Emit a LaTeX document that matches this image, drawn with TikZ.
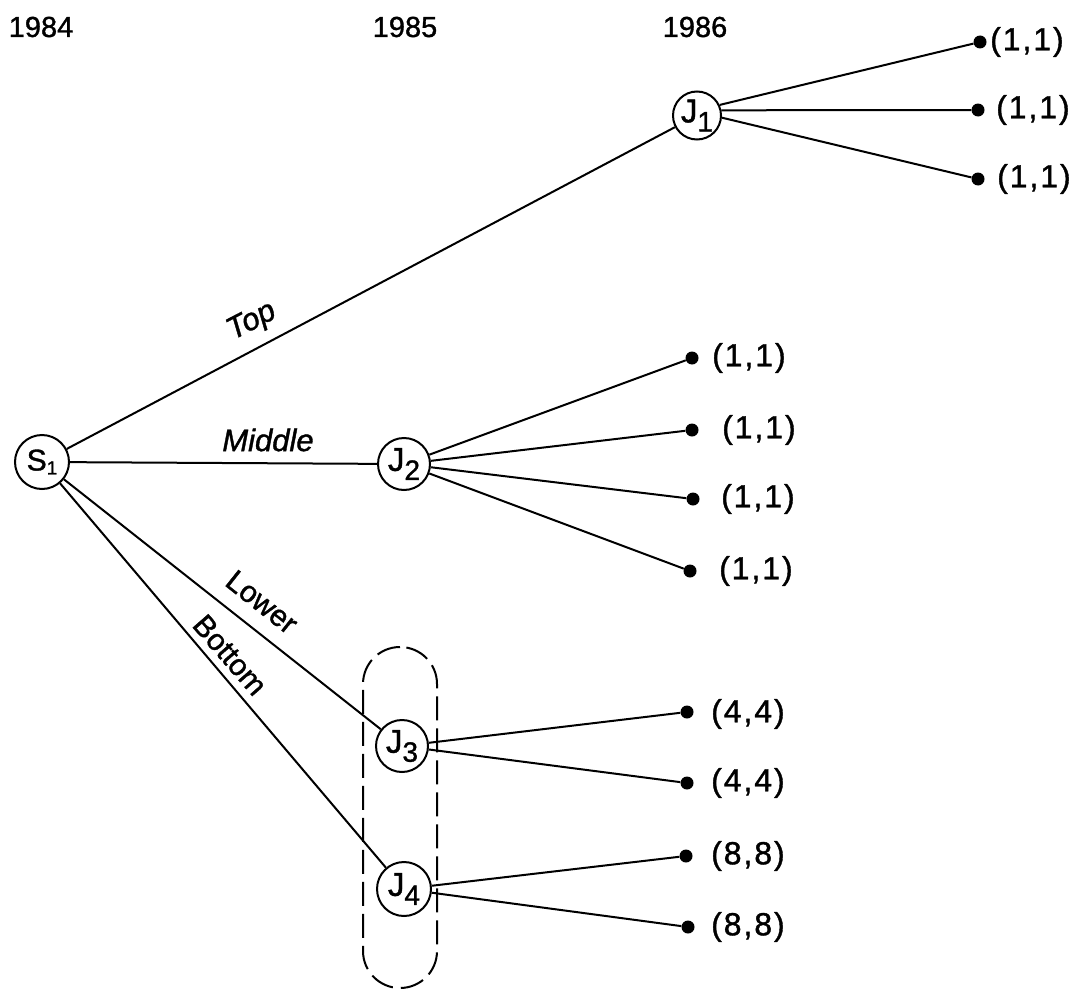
\documentclass[tikz,border=0pt]{standalone}
\usepackage{fontspec}
\setmainfont{Liberation Sans}[FakeBold=1.2]
\newfontfamily\payfam[LetterSpace=6,FakeBold=1.2]{Liberation Sans}
\newcommand\jname[1]{\fontsize{33}{33}\selectfont J\raisebox{-9pt}{\fontsize{28}{28}\selectfont #1}}
\begin{document}
\begin{tikzpicture}[x=1pt,y=-1pt,
  every node/.style={inner sep=0pt},
  state/.style={circle,draw,line width=2pt,minimum size=52pt,inner sep=0pt},
  leaf/.style={circle,fill,minimum size=13pt,inner sep=0pt},
  pay/.style={anchor=west,font=\payfam\fontsize{32}{32}\selectfont},
  yr/.style={font=\fontsize{29}{29}\selectfont},
  edge/.style={line width=2pt},
  ilab/.style={font=\fontsize{31}{31}\selectfont\itshape},
  ulab/.style={font=\fontsize{30}{30}\selectfont},
  grpbox/.style={draw,line width=2pt,dash pattern=on 24pt off 8pt,rounded corners=37pt,minimum width=74pt,minimum height=341pt}
]
\useasboundingbox (0,0) rectangle (1071,990);

% years
\node[yr] (y84) at (41,27) {1984};
\node[yr] (y85) at (405,27) {1985};
\node[yr] (y86) at (695,27) {1986};

% group box
\node[grpbox] (grp) at (400,817.5) {};

% decision nodes
\node[state,minimum size=54pt] (S1) at (42,462) {\fontsize{30}{30}\selectfont S\raisebox{-4pt}{\fontsize{19}{19}\selectfont 1}};
\node[state,minimum size=48pt] (J1) at (697,115.5) {\jname{1}};
\node[state] (J2) at (404,464) {\jname{2}};
\node[state] (J3) at (402,746) {\jname{3}};
\node[state,minimum size=54pt] (J4) at (404,889) {\jname{4}};

% leaves
\node[leaf] (a1) at (980,42) {};
\node[leaf] (a2) at (978,110) {};
\node[leaf] (a3) at (978,179) {};
\node[leaf] (b1) at (692,358) {};
\node[leaf] (b2) at (692,430) {};
\node[leaf] (b3) at (693,499) {};
\node[leaf] (b4) at (690,571) {};
\node[leaf] (c1) at (687,712) {};
\node[leaf] (c2) at (687,783) {};
\node[leaf] (d1) at (686,856) {};
\node[leaf] (d2) at (688,927) {};

% payoffs
\node[pay] (pa1) at (990,42) {(1,1)};
\node[pay] (pa2) at (996,110) {(1,1)};
\node[pay] (pa3) at (997,179) {(1,1)};
\node[pay] (pb1) at (712,358) {(1,1)};
\node[pay] (pb2) at (722,430) {(1,1)};
\node[pay] (pb3) at (721,499) {(1,1)};
\node[pay] (pb4) at (719,571) {(1,1)};
\node[pay] (pc1) at (711,714) {(4,4)};
\node[pay] (pc2) at (711,783) {(4,4)};
\node[pay] (pd1) at (711,856) {(8,8)};
\node[pay] (pd2) at (711,927) {(8,8)};

% main edges
\draw[edge] (S1) -- (J1);
\draw[edge] (S1) -- (J2);
\draw[edge] (S1) -- (J3);
\draw[edge] (S1) -- (J4);

% branches
\draw[edge] (J1.25) -- (a1);
\draw[edge] (J1.12) -- (a2);
\draw[edge] (J1.-5) -- (a3);
\draw[edge] (J2) -- (b1);
\draw[edge] (J2) -- (b2);
\draw[edge] (J2) -- (b3);
\draw[edge] (J2) -- (b4);
\draw[edge] (J3) -- (c1);
\draw[edge] (J3) -- (c2);
\draw[edge] (J4) -- (d1);
\draw[edge] (J4) -- (d2);

% edge labels
\node[ilab,rotate=27.5] (lt) at (252,322) {Top};
\node[ilab] (lm) at (268,440) {Middle};
\node[ulab,rotate=-38.4] (ll) at (262,602) {Lower};
\node[ulab,rotate=-49] (lb) at (230,655) {Bottom};
\end{tikzpicture}
\end{document}
